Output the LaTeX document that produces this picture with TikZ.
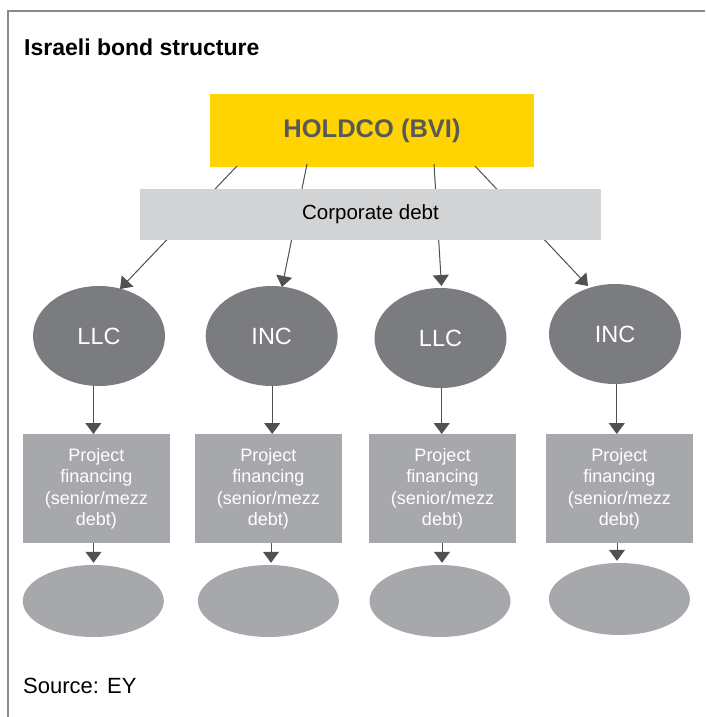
\documentclass[tikz,border=0pt]{standalone}
\usepackage{fontspec}
\setmainfont{Liberation Sans}
\usetikzlibrary{arrows.meta,shapes.geometric}
\definecolor{eyyellow}{HTML}{FFD400}
\definecolor{corpgray}{HTML}{D2D3D5}
\definecolor{entgray}{HTML}{7B7C7F}
\definecolor{projgray}{HTML}{A7A8AB}
\definecolor{framegray}{HTML}{8A8A8C}
\definecolor{linegray}{HTML}{505153}
\definecolor{holdtext}{HTML}{58595B}
\tikzset{
  holdbox/.style={fill=eyyellow, minimum width=324pt, minimum height=73pt, inner sep=0pt,
    text=holdtext, font=\fontsize{25.5}{30}\selectfont\bfseries},
  corpbox/.style={fill=corpgray, minimum width=461pt, minimum height=51pt, inner sep=0pt,
    text=black, font=\fontsize{20.5}{24}\selectfont},
  entity/.style={ellipse, fill=entgray, minimum width=132pt, minimum height=100pt, inner sep=0pt,
    text=white, font=\fontsize{23.5}{28}\selectfont},
  projbox/.style={fill=projgray, minimum width=147pt, minimum height=109pt, inner sep=0pt,
    text=white, align=center, font=\fontsize{18}{21.5}\selectfont},
  asset/.style={ellipse, fill=projgray, minimum width=141pt, minimum height=72pt, inner sep=0pt},
  conn/.style={draw=linegray, line width=1pt},
  arr/.style={conn, -{Triangle[width=16pt,length=11pt]}, fill=linegray},
}
\begin{document}
\begin{tikzpicture}[x=1pt,y=-1pt]
\useasboundingbox (0,0) rectangle (705,717);
% frame
\draw[framegray, line width=2pt] (7.5,717) -- (7.5,11.5) -- (705,11.5);
% title
\node[anchor=base west, inner sep=0pt, font=\fontsize{23}{27}\selectfont\bfseries] (title) at (24,56) {Israeli bond structure};
% top nodes
\node[holdbox] (hold) at (372,130.5) {HOLDCO (BVI)};
% entities
\node[entity] (e1) at (99,336) {LLC};
\node[entity] (e2) at (271.7,336) {INC};
\node[entity] (e3) at (440.5,338) {LLC};
\node[entity] (e4) at (615,334) {INC};
% diagonal connectors (behind corporate debt box)
\coordinate (s1) at (237,166);
\coordinate (s2) at (307,164);
\coordinate (s3) at (434,164);
\coordinate (s4) at (475,166);
\coordinate (t1) at (120,289);
\coordinate (t2) at (282,287);
\coordinate (t3) at (441.5,286);
\coordinate (t4) at (588,286);
\draw[arr] (s1) -- (t1);
\draw[arr] (s2) -- (t2);
\draw[arr] (s3) -- (t3);
\draw[arr] (s4) -- (t4);
\node[corpbox] (corp) at (370.5,214.5) {Corporate debt};
% project boxes
\node[projbox] (p1) at (96.3,488.7) {Project\\financing\\(senior/mezz\\debt)};
\node[projbox] (p2) at (268.3,488.7) {Project\\financing\\(senior/mezz\\debt)};
\node[projbox] (p3) at (442.5,488.7) {Project\\financing\\(senior/mezz\\debt)};
\node[projbox] (p4) at (619.3,488.7) {Project\\financing\\(senior/mezz\\debt)};
% assets
\node[asset] (a1) at (93.3,601) {};
\node[asset] (a2) at (268.4,601) {};
\node[asset] (a3) at (440,601) {};
\node[asset] (a4) at (619.4,599) {};
% column lines
\coordinate (c1) at (93.4,0);
\coordinate (c2) at (272.2,0);
\coordinate (c3) at (441.7,0);
\coordinate (c4) at (616.8,0);
\coordinate (d1) at (93.5,0);
\coordinate (d2) at (271,0);
\coordinate (d3) at (442,0);
\coordinate (d4) at (617,0);
\foreach \i in {1,2,3,4}{
  \draw[arr] (e\i.south -| c\i) -- (p\i.north -| c\i);
  \draw[arr] (p\i.south -| d\i) -- ([yshift=2pt]a\i.north -| d\i);
}
% source
\node[anchor=base west, inner sep=0pt, font=\fontsize{22}{26}\selectfont] (src) at (23,693) {Source: EY};
\end{tikzpicture}
\end{document}
